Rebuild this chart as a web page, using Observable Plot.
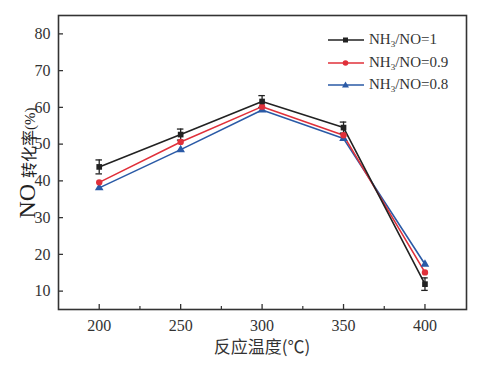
<!DOCTYPE html>
<html><head><meta charset="utf-8">
<script src="https://cdn.jsdelivr.net/npm/d3@7"></script>
<script src="https://cdn.jsdelivr.net/npm/@observablehq/plot@0.6"></script>
<style>
body{margin:0;background:#fff;}
#wrap{position:relative;width:481px;height:365px;font-family:"Liberation Serif",serif;}
#chart svg text{font-family:"Liberation Serif",serif;}
#legend{position:absolute;left:328px;top:29px;font-size:15px;color:#333;}
.row{display:flex;align-items:center;height:22.5px;}
.row svg{margin-right:5px;}
sub{font-size:9px;vertical-align:-3px;}
#ylab{position:absolute;left:27px;top:163px;transform:translate(-50%,-50%) rotate(-90deg);white-space:nowrap;color:#222;}
#xlab{position:absolute;left:0;width:524px;top:333px;text-align:center;font-family:"Noto Sans CJK SC",sans-serif;font-size:17px;color:#333;}
</style></head>
<body><div id="wrap"><div id="chart"></div>
<div id="legend"></div>
<div id="ylab"><span style="font-family:'Liberation Serif',serif;font-size:24px;">NO</span><span style="font-family:'Noto Sans CJK SC',sans-serif;font-size:16px;margin-left:6px;">转化率</span><span style="font-size:15px;">(%)</span></div>
<div id="xlab">反应温度(℃)</div>
</div>
<script>
const temps = [200, 250, 300, 350, 400];
const seriesNames = ["NH3/NO=1", "NH3/NO=0.9", "NH3/NO=0.8"];
const seriesLabels = ["NH<sub>3</sub>/NO=1", "NH<sub>3</sub>/NO=0.9", "NH<sub>3</sub>/NO=0.8"];
const conv1 = [43.8, 52.6, 61.6, 54.5, 11.9];
const conv09 = [39.6, 50.6, 60.2, 52.4, 15.1];
const conv08 = [38.1, 48.5, 59.3, 51.5, 17.3];
const err1 = [1.9, 1.5, 1.6, 1.5, 1.7];
const colors = ["#222222", "#e0303a", "#2a5aa6"];
const symbols = ["square", "circle", "triangle"];
const yTicks = [10, 20, 30, 40, 50, 60, 70, 80];
const xTicks = [200, 250, 300, 350, 400];
const xMinor = [225, 275, 325, 375];

const allVals = [conv1, conv09, conv08];
const data = [];
seriesNames.forEach((s, i) => temps.forEach((t, j) => data.push({s, t, v: allVals[i][j]})));
const errData = temps.map((t, j) => ({t, lo: conv1[j] - err1[j], hi: conv1[j] + err1[j]}));

const plot = Plot.plot({
  width: 481, height: 365,
  marginLeft: 58, marginRight: 15, marginTop: 15, marginBottom: 56,
  style: {fontFamily: '"Liberation Serif", serif', fontSize: "16px", color: "#333", background: "#fff"},
  x: {domain: [175, 425.5]},
  y: {domain: [5, 85]},
  color: {domain: seriesNames, range: colors},
  symbol: {domain: seriesNames, range: symbols},
  marks: [
    Plot.frame({stroke: "#333", strokeWidth: 1.6}),
    Plot.axisX({ticks: xTicks, tickSize: 0, tickPadding: 10, label: null, tickFormat: d => d}),
    Plot.axisX({ticks: xTicks, tickSize: -5, text: null, label: null, stroke: "#333", strokeWidth: 1.3}),
    Plot.axisX({ticks: xMinor, tickSize: -3, text: null, label: null, stroke: "#333", strokeWidth: 1.2}),
    Plot.axisY({ticks: yTicks, tickSize: 0, tickPadding: 8, label: null}),
    Plot.axisY({ticks: yTicks, tickSize: -5, text: null, label: null, stroke: "#333", strokeWidth: 1.3}),
    Plot.line(data.slice().reverse(), {x: "t", y: "v", z: "s", stroke: "s", strokeWidth: 1.6}),
    Plot.ruleX(errData, {x: "t", y1: "lo", y2: "hi", stroke: "#222", strokeWidth: 1.3}),
    Plot.ruleY(errData, {y: "lo", x1: d => d.t - 2, x2: d => d.t + 2, stroke: "#222", strokeWidth: 1.3}),
    Plot.ruleY(errData, {y: "hi", x1: d => d.t - 2, x2: d => d.t + 2, stroke: "#222", strokeWidth: 1.3}),
    Plot.dot(data.slice().reverse(), {x: "t", y: "v", fill: "s", symbol: "s", r: 3.2, stroke: null})
  ]
});
document.getElementById("chart").appendChild(plot);

const legend = document.getElementById("legend");
const symPaths = {
  square: '<rect x="15" y="3.5" width="5" height="5"/>',
  circle: '<circle cx="17.5" cy="6" r="2.8"/>',
  triangle: '<path d="M17.5,2.6 L21,8.6 L14,8.6 Z"/>'
};
seriesNames.forEach((s, i) => {
  const row = document.createElement("div");
  row.className = "row";
  row.innerHTML = `<svg width="36" height="12"><line x1="0" x2="36" y1="6" y2="6" stroke="${colors[i]}" stroke-width="1.6"/><g fill="${colors[i]}">${symPaths[symbols[i]]}</g></svg><span>${seriesLabels[i]}</span>`;
  legend.appendChild(row);
});
</script>
</body></html>
